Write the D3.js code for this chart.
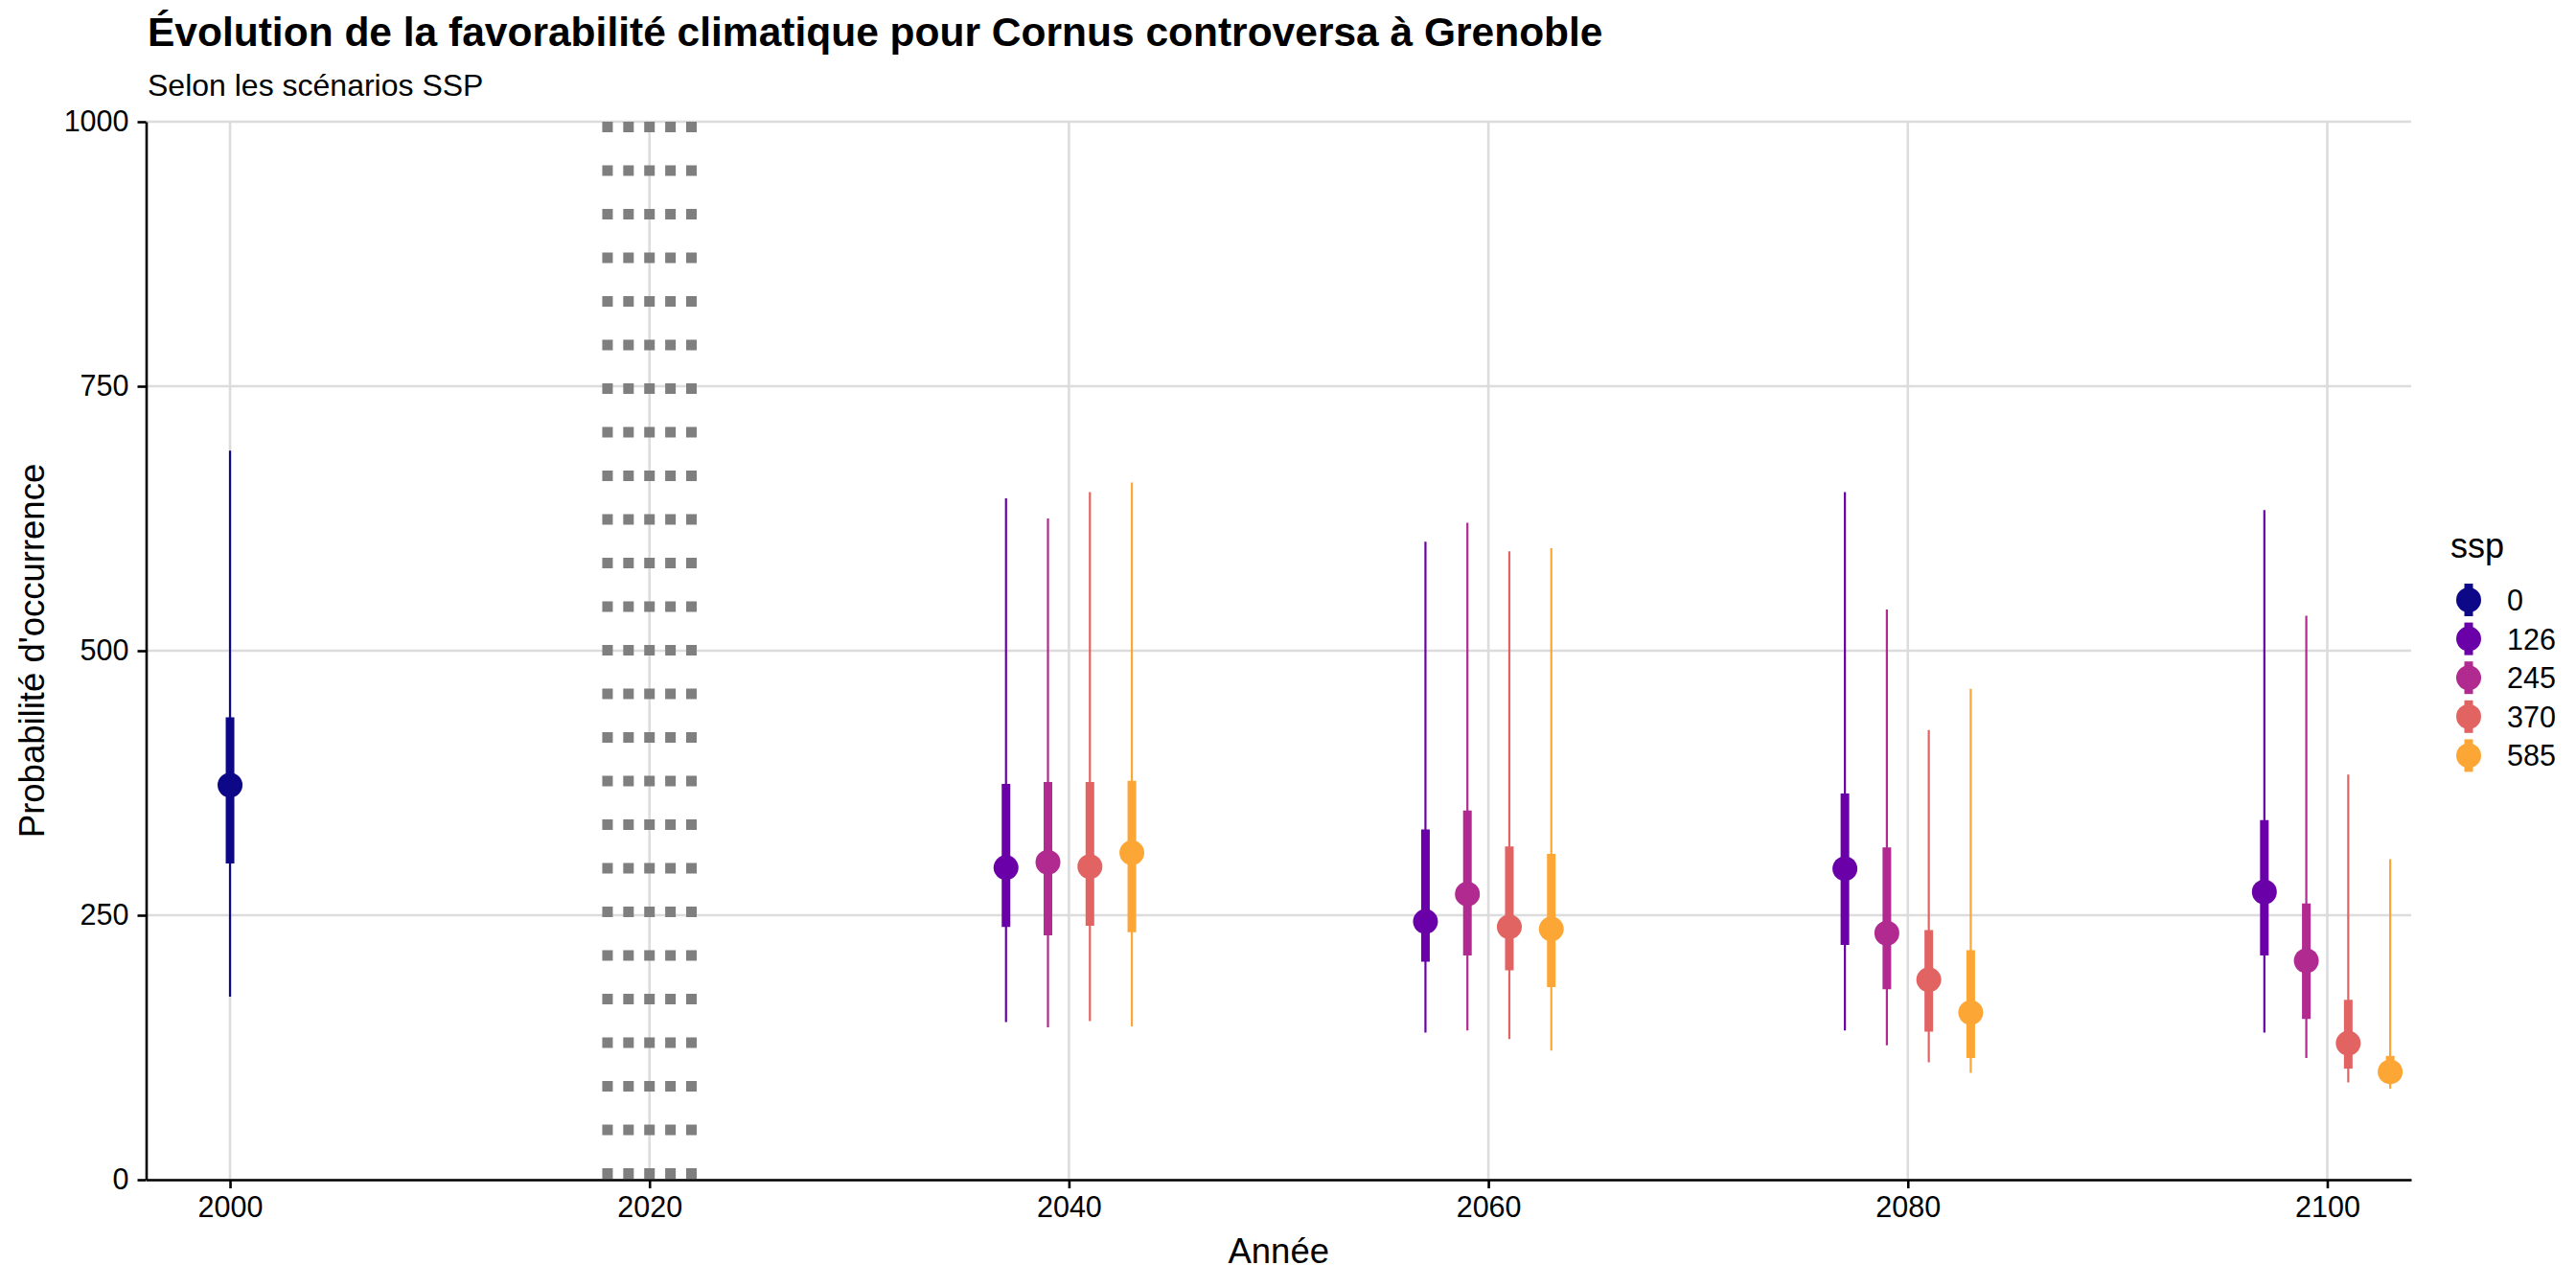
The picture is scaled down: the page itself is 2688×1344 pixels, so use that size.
<!DOCTYPE html>
<html>
<head>
<meta charset="utf-8">
<script src="https://cdn.jsdelivr.net/npm/d3@7"></script>
<style>
  html, body { margin: 0; padding: 0; background: #ffffff; }
  svg text { font-family: "Liberation Sans", Arial, Helvetica, sans-serif; fill: #000; }
</style>
</head>
<body>
<div id="chart"></div>
<script>
// categories
var sspLevels = ["0", "126", "245", "370", "585"];
var xBreaks = [2000, 2020, 2040, 2060, 2080, 2100];
var yBreaks = [0, 250, 500, 750, 1000];
var transitionYears = [2018, 2019, 2020, 2021, 2022];

// one row per (ssp, period)
var rowSsp  = ["0",
               "126", "126", "126", "126",
               "245", "245", "245", "245",
               "370", "370", "370", "370",
               "585", "585", "585", "585"];
var rowYear = [2000,
               2040, 2060, 2080, 2100,
               2040, 2060, 2080, 2100,
               2040, 2060, 2080, 2100,
               2040, 2060, 2080, 2100];
var median  = [373,
               295, 244, 294, 272,
               300, 270, 233, 207,
               296, 239, 189, 129,
               309, 237, 158, 102];
var lo66    = [299,
               239, 206, 222, 212,
               231, 212, 180, 152,
               240, 198, 140, 105,
               234, 182, 115, 92];
var hi66    = [437,
               374, 331, 365, 340,
               376, 349, 314, 261,
               376, 315, 236, 170,
               377, 308, 217, 117];
var lo95    = [173,
               149, 139, 141, 139,
               144, 141, 127, 115,
               150, 133, 111, 92,
               145, 122, 101, 86];
var hi95    = [689,
               644, 603, 650, 633,
               625, 621, 539, 533,
               650, 594, 425, 383,
               659, 597, 464, 303];

var sspColors = ["#0d0887", "#6a00a8", "#b12a90", "#e16462", "#fca636"];

var W = 2688, H = 1344;
var panel = {left: 152.5, right: 2516, top: 127, bottom: 1231};

var svg = d3.select("#chart").append("svg")
    .attr("width", W)
    .attr("height", H)
    .attr("viewBox", "0 0 " + W + " " + H);

svg.append("rect").attr("width", W).attr("height", H).attr("fill", "#ffffff");

var x = d3.scaleLinear().domain([1996, 2104]).range([panel.left, panel.right]);
var y = d3.scaleLinear().domain([0, 1000]).range([panel.bottom, panel.top]);
var color = d3.scaleOrdinal().domain(sspLevels).range(sspColors);

// dodge scenarios around each period (baseline sits on its own)
function dodge(ssp) {
    var i = sspLevels.indexOf(ssp);
    return i === 0 ? 0 : -3 + 2 * (i - 1);
}

var rows = rowSsp.map(function(s, i) {
    return {ssp: s, year: rowYear[i], med: median[i],
            lo66: lo66[i], hi66: hi66[i], lo95: lo95[i], hi95: hi95[i]};
});

// grid
var grid = svg.append("g");
grid.selectAll("line.gx").data(xBreaks).enter().append("line")
    .attr("x1", function(d) { return x(d); })
    .attr("x2", function(d) { return x(d); })
    .attr("y1", panel.top).attr("y2", panel.bottom)
    .attr("stroke", "#dcdcdc").attr("stroke-width", 2.6);
grid.selectAll("line.gy").data(yBreaks).enter().append("line")
    .attr("x1", panel.left).attr("x2", panel.right)
    .attr("y1", function(d) { return y(d); })
    .attr("y2", function(d) { return y(d); })
    .attr("stroke", "#dcdcdc").attr("stroke-width", 2.6);

// dotted band marking the present
svg.append("g").selectAll("line").data(transitionYears).enter().append("line")
    .attr("x1", function(d) { return x(d); })
    .attr("x2", function(d) { return x(d); })
    .attr("y1", y(1000)).attr("y2", y(0))
    .attr("stroke", "#7f7f7f")
    .attr("stroke-width", 11)
    .attr("stroke-dasharray", "11 34.5");

// intervals + points
var marks = svg.append("g");
marks.selectAll("line.thin").data(rows).enter().append("line")
    .attr("x1", function(d) { return x(d.year + dodge(d.ssp)); })
    .attr("x2", function(d) { return x(d.year + dodge(d.ssp)); })
    .attr("y1", function(d) { return y(d.lo95); })
    .attr("y2", function(d) { return y(d.hi95); })
    .attr("stroke", function(d) { return color(d.ssp); })
    .attr("stroke-width", 2.2);
marks.selectAll("line.thick").data(rows).enter().append("line")
    .attr("x1", function(d) { return x(d.year + dodge(d.ssp)); })
    .attr("x2", function(d) { return x(d.year + dodge(d.ssp)); })
    .attr("y1", function(d) { return y(d.lo66); })
    .attr("y2", function(d) { return y(d.hi66); })
    .attr("stroke", function(d) { return color(d.ssp); })
    .attr("stroke-width", 9);
marks.selectAll("circle").data(rows).enter().append("circle")
    .attr("cx", function(d) { return x(d.year + dodge(d.ssp)); })
    .attr("cy", function(d) { return y(d.med); })
    .attr("r", 13)
    .attr("fill", function(d) { return color(d.ssp); });

// axes
var xAxis = svg.append("g")
    .attr("transform", "translate(0," + panel.bottom + ")")
    .call(d3.axisBottom(x).tickValues(xBreaks).tickFormat(d3.format("d"))
        .tickSize(9).tickSizeOuter(0).tickPadding(8));
var yAxis = svg.append("g")
    .attr("transform", "translate(" + panel.left + ",0)")
    .call(d3.axisLeft(y).tickValues(yBreaks).tickFormat(d3.format("d"))
        .tickSize(9).tickSizeOuter(0).tickPadding(9));
[xAxis, yAxis].forEach(function(a) {
    a.select(".domain").attr("stroke", "#000").attr("stroke-width", 2.6);
    a.selectAll(".tick line").attr("stroke", "#000").attr("stroke-width", 2.6);
    a.selectAll(".tick text")
        .style("font-family", "'Liberation Sans', Arial, sans-serif")
        .style("font-size", "30.5px")
        .attr("fill", "#000");
});

// titles
svg.append("text")
    .attr("x", 154).attr("y", 48)
    .style("font-size", "42.5px").style("font-weight", "bold")
    .text("Évolution de la favorabilité climatique pour Cornus controversa à Grenoble");
svg.append("text")
    .attr("x", 154).attr("y", 100)
    .style("font-size", "32px")
    .text("Selon les scénarios SSP");
svg.append("text")
    .attr("x", (panel.left + panel.right) / 2).attr("y", 1318)
    .attr("text-anchor", "middle")
    .style("font-size", "36.5px")
    .text("Année");
svg.append("text")
    .attr("transform", "translate(46," + (panel.top + panel.bottom) / 2 + ") rotate(-90)")
    .attr("text-anchor", "middle")
    .style("font-size", "36.5px")
    .text("Probabilité d'occurrence");

// legend
var legend = svg.append("g").attr("transform", "translate(2557,0)");
legend.append("text")
    .attr("x", 0).attr("y", 582)
    .style("font-size", "36px")
    .text("ssp");
var keys = legend.selectAll("g.key").data(sspLevels).enter().append("g")
    .attr("transform", function(d, i) { return "translate(19," + (626 + i * 40.6) + ")"; });
keys.append("line")
    .attr("y1", -17).attr("y2", 17)
    .attr("stroke", function(d) { return color(d); })
    .attr("stroke-width", 9);
keys.append("circle")
    .attr("r", 13)
    .attr("fill", function(d) { return color(d); });
keys.append("text")
    .attr("x", 40).attr("y", 11)
    .style("font-size", "30.5px")
    .text(function(d) { return d; });
</script>
</body>
</html>
